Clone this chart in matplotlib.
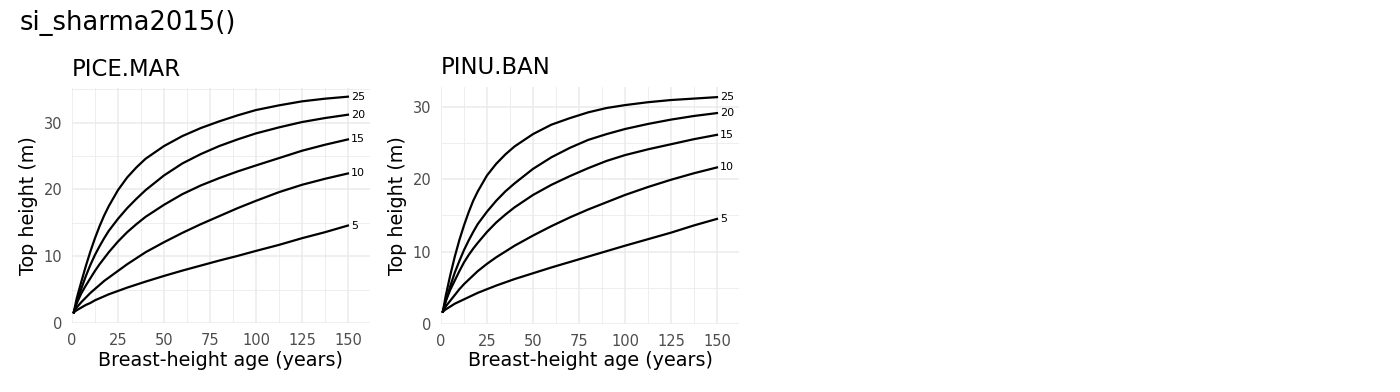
import numpy as np
import matplotlib.pyplot as plt
from matplotlib.ticker import MultipleLocator

age = [1, 2.5, 5, 7.5, 10, 12.5, 15, 17.5, 20, 25, 30, 35, 40, 50, 60, 70, 80, 90,
       100, 112.5, 125, 137.5, 150]
site_index = [5, 10, 15, 20, 25]

# top height (m) per site index, PICE.MAR
pice_mar = {
    5:  [1.6, 1.9, 2.3, 2.7, 3.0, 3.4, 3.7, 4.0, 4.3, 4.8, 5.3, 5.75, 6.2, 7.05, 7.85, 8.6,
         9.35, 10.05, 10.8, 11.7, 12.7, 13.6, 14.6],
    10: [1.6, 2.3, 3.1, 3.8, 4.5, 5.1, 5.7, 6.3, 6.8, 7.8, 8.8, 9.7, 10.6, 12.1, 13.5, 14.8,
         16.0, 17.2, 18.3, 19.6, 20.7, 21.6, 22.4],
    15: [1.6, 2.9, 4.4, 5.6, 6.7, 7.8, 8.8, 9.7, 10.6, 12.2, 13.6, 14.8, 15.9, 17.7, 19.3, 20.6,
         21.7, 22.7, 23.6, 24.7, 25.8, 26.7, 27.5],
    20: [1.6, 3.0, 5.1, 7.0, 8.7, 10.2, 11.5, 12.7, 13.8, 15.6, 17.2, 18.6, 19.9, 22.1, 23.9, 25.3,
         26.5, 27.5, 28.4, 29.3, 30.1, 30.7, 31.2],
    25: [1.6, 3.6, 6.1, 8.5, 10.7, 12.7, 14.5, 16.1, 17.5, 19.9, 21.8, 23.3, 24.6, 26.5, 28.0, 29.2,
         30.2, 31.1, 31.9, 32.6, 33.2, 33.6, 33.9],
}

# top height (m) per site index, PINU.BAN
pinu_ban = {
    5:  [1.7, 2.0, 2.4, 2.8, 3.1, 3.4, 3.7, 4.0, 4.3, 4.8, 5.3, 5.75, 6.2, 7.0, 7.8, 8.55,
         9.3, 10.05, 10.8, 11.7, 12.6, 13.6, 14.5],
    10: [1.7, 2.4, 3.2, 4.0, 4.8, 5.5, 6.1, 6.7, 7.3, 8.3, 9.2, 10.0, 10.8, 12.2, 13.5, 14.7,
         15.8, 16.8, 17.8, 18.9, 19.9, 20.8, 21.6],
    15: [1.7, 3.1, 4.7, 6.0, 7.3, 8.5, 9.5, 10.4, 11.2, 12.7, 14.0, 15.1, 16.1, 17.8, 19.2, 20.4,
         21.5, 22.5, 23.3, 24.1, 24.8, 25.5, 26.1],
    20: [1.7, 3.1, 5.2, 7.1, 8.7, 10.2, 11.5, 12.7, 13.8, 15.5, 17.0, 18.3, 19.4, 21.4, 23.0, 24.3,
         25.4, 26.2, 26.9, 27.6, 28.2, 28.7, 29.1],
    25: [1.7, 3.8, 6.7, 9.3, 11.6, 13.6, 15.4, 17.0, 18.3, 20.5, 22.1, 23.4, 24.5, 26.2, 27.5, 28.4,
         29.2, 29.8, 30.2, 30.6, 30.9, 31.1, 31.3],
}

species = ['PICE.MAR', 'PINU.BAN']
ylims = [35.2, 32.7]

fig = plt.figure(figsize=(14, 3.92), dpi=100)
axes = [fig.add_axes([0.0514, 0.176, 0.2129, 0.5995]),
        fig.add_axes([0.315, 0.1735, 0.2129, 0.6046])]

for ax, sp, data, ytop in zip(axes, species, [pice_mar, pinu_ban], ylims):
    for si in site_index:
        ax.plot(age, data[si], color='black', lw=1.6, solid_joinstyle='round')
        ax.text(age[-1] + 1.8, data[si][-1], str(si), fontsize=8,
                va='center', ha='left', color='black')
    ax.set_xlim(0, 162)
    ax.set_ylim(0, ytop)
    ax.xaxis.set_major_locator(MultipleLocator(25))
    ax.xaxis.set_minor_locator(MultipleLocator(12.5))
    ax.yaxis.set_major_locator(MultipleLocator(10))
    ax.yaxis.set_minor_locator(MultipleLocator(5))
    ax.grid(which='major', color='#EBEBEB', lw=1.1)
    ax.grid(which='minor', color='#EBEBEB', lw=0.6)
    ax.set_axisbelow(True)
    for s in ax.spines.values():
        s.set_visible(False)
    ax.tick_params(which='both', length=0, labelsize=10.5, labelcolor='#4D4D4D')
    ax.tick_params(axis='x', pad=7)
    ax.tick_params(axis='y', pad=7)
    ax.set_xlabel('Breast-height age (years)', fontsize=13.8, labelpad=2)
    ax.set_ylabel('Top height (m)', fontsize=13.8, labelpad=4)
    ax.set_title(sp, loc='left', fontsize=16.4, pad=9)

fig.text(0.0143, 1 - 23 / 392, 'si_sharma2015()', fontsize=18.5, va='center', ha='left')

fig.savefig('out.png', dpi=100)
